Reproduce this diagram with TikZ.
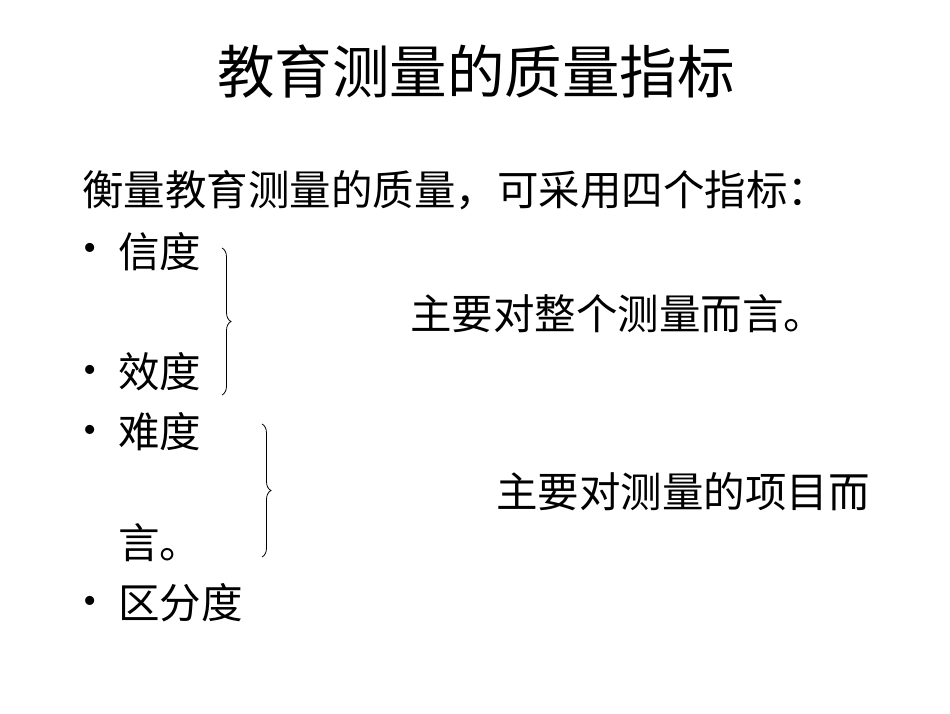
\documentclass[tikz,border=0pt]{standalone}
\usepackage{fontspec}
\setmainfont{Liberation Serif}
\newfontfamily\cjk{Noto Sans CJK SC}
\usetikzlibrary{decorations.pathreplacing}
\tikzset{
 body/.style={anchor=west,inner sep=0pt,font=\cjk\fontsize{41.5}{44}\selectfont},
 bul/.style={anchor=center,inner sep=0pt,font=\fontsize{38}{40}\selectfont},
 br/.style={decorate,decoration={brace,amplitude=9pt},line width=0.8pt}
}
\begin{document}
\begin{tikzpicture}[x=1pt,y=-1pt]
\useasboundingbox (0,0) rectangle (950,713);
\node[inner sep=0pt,font=\cjk\fontsize{57.5}{60}\selectfont] (title) at (476,72) {教育测量的质量指标};
\node[body] (intro) at (82,190) {衡量教育测量的质量，可采用四个指标：};
\node[bul] (b1) at (90,252) {•};
\node[body] (xd) at (118,252) {信度};
\node[bul] (b2) at (90,374) {•};
\node[body] (vd) at (118,372) {效度};
\node[bul] (b3) at (90,434) {•};
\node[body] (nd) at (118,432) {难度};
\node[body] (yan) at (118,543) {言。};
\node[bul] (b4) at (90,605) {•};
\node[body] (qfd) at (118,603) {区分度};
\node[body] (r1) at (410,314) {主要对整个测量而言。};
\node[body] (r2) at (496,492) {主要对测量的项目而};
\coordinate (c1) at (222,248);
\coordinate (c2) at (222,395);
\coordinate (c3) at (262,424);
\coordinate (c4) at (262,557);
\draw[br] (c1) -- (c2);
\draw[br] (c3) -- (c4);
\end{tikzpicture}
\end{document}
